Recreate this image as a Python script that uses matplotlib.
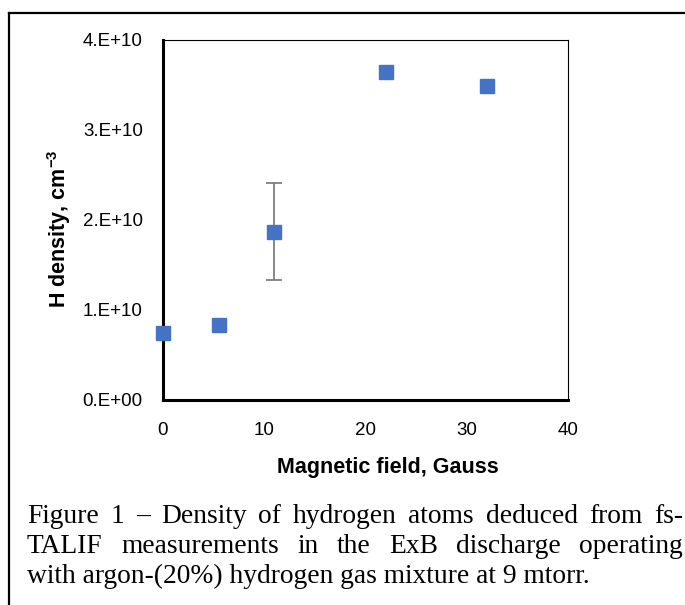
import matplotlib
matplotlib.use("Agg")
import matplotlib.pyplot as plt
from matplotlib.lines import Line2D
import numpy as np

# ---- data ----
field = [0, 5.5, 11, 22, 32]
density = [7.4e9, 8.3e9, 18.7e9, 36.4e9, 34.9e9]
density_err = [0, 0, 5.4e9, 0, 0]
xticks = [0, 10, 20, 30, 40]
yticks = [0, 1e10, 2e10, 3e10, 4e10]
ytick_labels = ["0.E+00", "1.E+10", "2.E+10", "3.E+10", "4.E+10"]
xlabel = "Magnetic field, Gauss"
ylabel = r"H density, cm$^{-3}$"
caption_lines = [
    "Figure 1 \u2013 Density of hydrogen atoms deduced from fs-",
    "TALIF measurements in the ExB discharge operating",
    "with argon-(20%) hydrogen gas mixture at 9 mtorr.",
]

W, H = 685, 605
plt.rcParams["font.family"] = ["Liberation Sans", "DejaVu Sans"]
plt.rcParams["mathtext.fontset"] = "custom"
plt.rcParams["mathtext.rm"] = "Liberation Sans:bold"
plt.rcParams["mathtext.bf"] = "Liberation Sans:bold"
plt.rcParams["mathtext.default"] = "bf"

fig = plt.figure(figsize=(W / 100, H / 100), dpi=100)
ax = fig.add_axes([163 / W, 1 - 400 / H, (568 - 163) / W, (400 - 40) / H])

# error bars (only where an error exists)
f = np.array(field)
d = np.array(density)
e = np.array(density_err)
m = e > 0
ax.errorbar(f[m], d[m], yerr=e[m], fmt="none", ecolor="#7f7f7f",
            elinewidth=1.3, capsize=5.5, capthick=1.3, zorder=2)
ax.plot(field, density, linestyle="none", marker="s", markersize=10,
        color="#4472C4", markeredgecolor="#4472C4", zorder=3, clip_on=False)

ax.set_xlim(0, 40)
ax.set_ylim(0, 4e10)
ax.set_xticks(xticks)
ax.set_xticklabels([str(t) for t in xticks])
ax.set_yticks(yticks)
ax.set_yticklabels(ytick_labels)
ax.tick_params(length=0, labelsize=13.5, colors="black")
ax.tick_params(axis="y", pad=14.5)
ax.tick_params(axis="x", pad=16)
for s in ["left", "bottom"]:
    ax.spines[s].set_linewidth(2.2)
for s in ["top", "right"]:
    ax.spines[s].set_linewidth(0.8)

fig.text(388 / W, 1 - 468 / H, xlabel, ha="center", va="center",
         fontsize=15.5, fontweight="bold")
fig.text(59 / W, 1 - 229 / H, ylabel, ha="center", va="center",
         rotation=90, fontsize=15.5, fontweight="bold")

# outer frame (left and top visible)
fig.add_artist(Line2D([9 / W, 9 / W], [0, 1 - 13 / H], transform=fig.transFigure,
                      color="black", linewidth=1.6))
fig.add_artist(Line2D([9 / W, 1], [1 - 13 / H, 1 - 13 / H], transform=fig.transFigure,
                      color="black", linewidth=1.6))

# caption (justified first two lines)
renderer = fig.canvas.get_renderer()
cap_fs = 19.8
x0, x1 = 27, 683
baselines = [523, 553, 583]
for i, line in enumerate(caption_lines):
    yb = 1 - baselines[i] / H
    if i < len(caption_lines) - 1:
        words = line.split(" ")
        texts = [fig.text(0, yb, w, fontsize=cap_fs, family="Liberation Serif",
                          va="baseline", ha="left") for w in words]
        widths = [t.get_window_extent(renderer).width for t in texts]
        gap = (x1 - x0 - sum(widths)) / (len(words) - 1)
        x = x0
        for t, w in zip(texts, widths):
            t.set_x(x / W)
            x += w + gap
    else:
        fig.text(x0 / W, yb, line, fontsize=cap_fs, family="Liberation Serif",
                 va="baseline", ha="left")

fig.savefig("out.png", dpi=100)
